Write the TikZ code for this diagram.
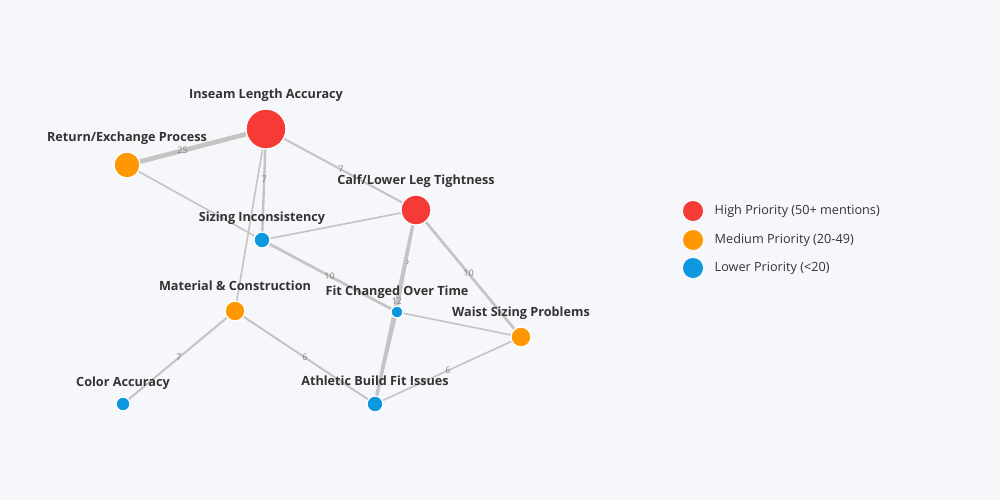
\documentclass[tikz,border=0pt]{standalone}
\usepackage{fontspec}
\setmainfont{Open Sans}
\definecolor{bg}{HTML}{F5F7FA}
\definecolor{hi}{HTML}{F63A35}
\definecolor{med}{HTML}{FF9800}
\definecolor{lo}{HTML}{0D97DE}
\definecolor{edge}{HTML}{C4C4C4}
\definecolor{lab}{HTML}{333333}
\begin{document}
\begin{tikzpicture}[x=0.75pt,y=-0.75pt,
  dot/.style={circle,inner sep=0pt,draw=white,line width=1pt,minimum size=#1},
  ttl/.style={font=\bfseries\fontsize{9.5}{11}\selectfont,text=lab},
  ed/.style={draw=edge,line width=#1},
  el/.style={font=\fontsize{6.8}{8}\selectfont,text=gray,inner sep=1pt},
  lg/.style={font=\fontsize{9.5}{11}\selectfont,text=lab,anchor=west}]
\fill[bg] (0,0) rectangle (1000,500);
\useasboundingbox (0,0) rectangle (1000,500);
% edges first (nodes coordinates)
\coordinate (cI) at (266,129); \coordinate (cR) at (127,165);
\coordinate (cC) at (416,210); \coordinate (cS) at (262,240);
\coordinate (cM) at (235,311); \coordinate (cF) at (397,312);
\coordinate (cW) at (521,337); \coordinate (cA) at (375,404);
\coordinate (cK) at (123,404);
\draw[ed=3.5pt] (cI) -- node[el,pos=0.6]{25} (cR);
\draw[ed=1.2pt] (cR) -- (cS);
\draw[ed=1.8pt] (cI) -- node[el,pos=0.45]{7} (cS);
\draw[ed=1.2pt] (cI) -- (cM);
\draw[ed=1.5pt] (cI) -- node[el,pos=0.5]{7} (cC);
\draw[ed=1.2pt] (cC) -- (cS);
\draw[ed=2pt] (cS) -- node[el,pos=0.5]{10} (cF);
\draw[ed=1.5pt] (cC) -- node[el,pos=0.5]{6} (cF);
\draw[ed=2.5pt] (cC) -- node[el,pos=0.47]{12} (cA);
\draw[ed=1.5pt] (cF) -- (cA);
\draw[ed=2pt] (cC) -- node[el,pos=0.5]{10} (cW);
\draw[ed=1.2pt] (cF) -- (cW);
\draw[ed=1.2pt] (cW) -- node[el,pos=0.5]{6} (cA);
\draw[ed=1.5pt] (cM) -- node[el,pos=0.5]{6} (cA);
\draw[ed=1.5pt] (cM) -- node[el,pos=0.5]{7} (cK);
% nodes
\node[dot=40pt*0.75,fill=hi] (I) at (cI) {};
\node[dot=26pt*0.75,fill=med] (R) at (cR) {};
\node[dot=30pt*0.75,fill=hi] (C) at (cC) {};
\node[dot=16pt*0.75,fill=lo] (S) at (cS) {};
\node[dot=20pt*0.75,fill=med] (M) at (cM) {};
\node[dot=12pt*0.75,fill=lo] (F) at (cF) {};
\node[dot=20pt*0.75,fill=med] (W) at (cW) {};
\node[dot=16pt*0.75,fill=lo] (A) at (cA) {};
\node[dot=14pt*0.75,fill=lo] (K) at (cK) {};
% titles
\node[ttl] (tI) at (266,95) {Inseam Length Accuracy};
\node[ttl] (tR) at (127,138) {Return/Exchange Process};
\node[ttl] (tC) at (416,181) {Calf/Lower Leg Tightness};
\node[ttl] (tS) at (262,218) {Sizing Inconsistency};
\node[ttl] (tM) at (235,286) {Material \& Construction};
\node[ttl] (tF) at (397,292) {Fit Changed Over Time};
\node[ttl] (tW) at (521,313) {Waist Sizing Problems};
\node[ttl] (tA) at (375,381) {Athletic Build Fit Issues};
\node[ttl] (tK) at (123,383) {Color Accuracy};
% legend
\node[dot=20pt*0.75,fill=hi,draw=none] (l1) at (693,211) {};
\node[dot=20pt*0.75,fill=med,draw=none] (l2) at (693,240) {};
\node[dot=20pt*0.75,fill=lo,draw=none] (l3) at (693,268) {};
\node[lg] (t1) at (710,211) {High Priority (50+ mentions)};
\node[lg] (t2) at (710,240) {Medium Priority (20-49)};
\node[lg] (t3) at (710,268) {Lower Priority (<20)};
\end{tikzpicture}
\end{document}
